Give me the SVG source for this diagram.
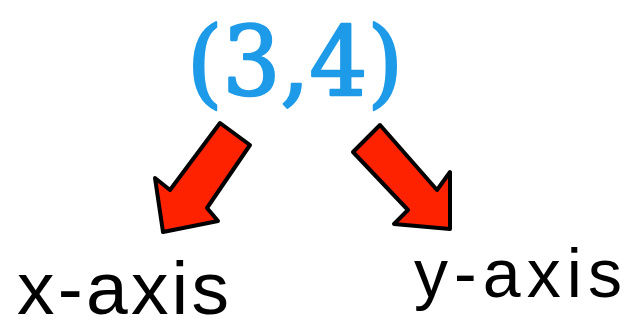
<svg xmlns="http://www.w3.org/2000/svg" width="628" height="323" viewBox="0 0 628 323">
<style>
.pt{font-family:"DejaVu Serif","Liberation Serif",serif;fill:#1E9BE8;stroke:#1E9BE8;stroke-width:2.5;stroke-linejoin:round}
.lbl{font-family:"Liberation Sans",Arial,sans-serif;fill:#000}
.arr{fill:#FF2200;stroke:#000;stroke-width:4;stroke-linejoin:round}
</style>
<rect width="628" height="323" fill="#fff"/>
<g id="point">
<text class="pt" x="187" y="95" font-size="96" textLength="216" lengthAdjust="spacingAndGlyphs">(3,4)</text>
</g>
<g id="connectors">
<polygon class="arr" points="220,123 250,145 207,208 218,221 163,232 155,178 170,190"/>
<polygon class="arr" points="380,125 437,190 450,172 450,229 394,224 408,210 353,152"/>
</g>
<g id="x-axis">
<text class="lbl" x="17" y="314" font-size="75" textLength="212" lengthAdjust="spacing">x-axis</text>
</g>
<g id="y-axis">
<text class="lbl" x="414" y="297" font-size="68" textLength="208" lengthAdjust="spacing">y-axis</text>
</g>
</svg>
